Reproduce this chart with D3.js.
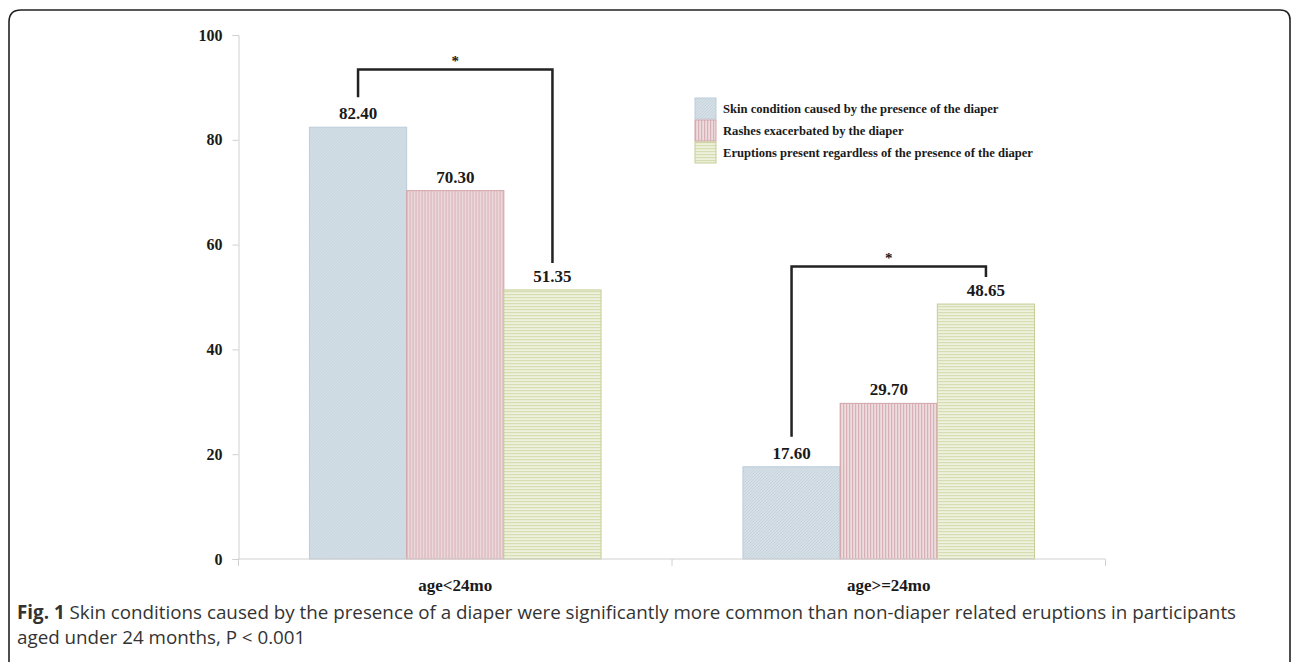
<!DOCTYPE html>
<html>
<head>
<meta charset="utf-8">
<script src="https://cdn.jsdelivr.net/npm/d3@7"></script>
<style>
  body { margin: 0; background: #fff; }
  svg { display: block; }
  .tick-label { font-family: "Liberation Serif", "Times New Roman", serif; font-weight: bold; fill: #1a1a1a; }
  .caption { font-family: "Open Sans", "Noto Sans", sans-serif; fill: #333; }
</style>
</head>
<body>
<div id="chart"></div>
<script>
const categories = ['age<24mo', 'age>=24mo']
const seriesNames = [
  'Skin condition caused by the presence of the diaper',
  'Rashes exacerbated by the diaper',
  'Eruptions present regardless of the presence of the diaper'
]
const valuesUnder24 = [82.40, 70.30, 51.35]
const valuesOver24 = [17.60, 29.70, 48.65]
const yTicks = [0, 20, 40, 60, 80, 100]
// significance brackets: first bar index, last bar index, bracket level (axis units)
const brackets = [
  {group: 'age<24mo', from: 0, to: 2, level: 93.4},
  {group: 'age>=24mo', from: 0, to: 2, level: 55.8}
]
const captionBold = 'Fig. 1'
const captionLine1 = ' Skin conditions caused by the presence of a diaper were significantly more common than non-diaper related eruptions in participants'
const captionLine2 = 'aged under 24 months, P < 0.001'

var fullWidth = 1292;
var fullHeight = 662;

var data = categories.map(function(c, i) {
  var vals = i == 0 ? valuesUnder24 : valuesOver24
  return {category: c, values: seriesNames.map(function(s, j) { return {series: s, idx: j, value: vals[j]} })}
})

var svg = d3.select('#chart').append('svg')
  .attr('width', fullWidth)
  .attr('height', fullHeight)

// patterns for the three series
var defs = svg.append('defs')
var pBlue = defs.append('pattern').attr('id', 'pat0').attr('patternUnits', 'userSpaceOnUse')
  .attr('width', 3).attr('height', 3)
pBlue.append('rect').attr('width', 3).attr('height', 3).attr('fill', '#d4dfe6')
pBlue.append('path').attr('d', 'M0,3 L3,0').attr('stroke', '#c3d1db').attr('stroke-width', 0.8)

var pRed = defs.append('pattern').attr('id', 'pat1').attr('patternUnits', 'userSpaceOnUse')
  .attr('width', 3).attr('height', 3)
pRed.append('rect').attr('width', 3).attr('height', 3).attr('fill', '#ecdcde')
pRed.append('rect').attr('x', 0).attr('width', 1.2).attr('height', 3).attr('fill', '#d9b0b6')

var pGreen = defs.append('pattern').attr('id', 'pat2').attr('patternUnits', 'userSpaceOnUse')
  .attr('width', 3).attr('height', 3)
pGreen.append('rect').attr('width', 3).attr('height', 3).attr('fill', '#eef1de')
pGreen.append('rect').attr('y', 0).attr('width', 3).attr('height', 1.2).attr('fill', '#d6ddb0')

var strokes = ['#bccdda', '#d3a3aa', '#c5cd96']

// outer frame (open at the bottom)
svg.append('path')
  .attr('d', 'M9,680 L9,22 Q9,10 21,10 L1280,10 Q1290,10 1290,20 L1290,680')
  .attr('fill', 'none')
  .attr('stroke', '#222')
  .attr('stroke-width', 1.6)

var x0 = d3.scaleBand().domain(categories).range([238.5, 1105.5])
var x1 = d3.scaleBand().domain(d3.range(seriesNames.length)).range([0, x0.bandwidth()]).paddingOuter(0.73)
var y = d3.scaleLinear().domain([0, 100]).range([559, 35])

// y axis
var yAxis = svg.append('g')
  .attr('transform', 'translate(238.5,0)')
  .call(d3.axisLeft(y).tickValues(yTicks).tickSize(6).tickPadding(10).tickFormat(d3.format('d')))
yAxis.selectAll('path, line').attr('stroke', '#d0d0d0')
yAxis.selectAll('text').attr('class', 'tick-label').style('font-size', '16px')

// bars
var groups = svg.selectAll('.group').data(data)
  .enter().append('g')
  .attr('class', 'group')
  .attr('transform', function(d) { return 'translate(' + x0(d.category) + ',0)' })

groups.selectAll('rect').data(function(d) { return d.values })
  .enter().append('rect')
  .attr('x', function(d) { return x1(d.idx) })
  .attr('y', function(d) { return y(d.value) })
  .attr('width', x1.bandwidth())
  .attr('height', function(d) { return y(0) - y(d.value) })
  .attr('fill', function(d) { return 'url(#pat' + d.idx + ')' })
  .attr('stroke', function(d) { return strokes[d.idx] })
  .attr('stroke-width', 1)

groups.selectAll('.val').data(function(d) { return d.values })
  .enter().append('text')
  .attr('class', 'tick-label val')
  .attr('x', function(d) { return x1(d.idx) + x1.bandwidth() / 2 })
  .attr('y', function(d) { return y(d.value) - 8 })
  .attr('text-anchor', 'middle')
  .style('font-size', '17px')
  .text(function(d) { return d3.format('.2f')(d.value) })

// x axis
var xAxis = svg.append('g')
  .attr('transform', 'translate(0,559)')
xAxis.append('line').attr('x1', x0.range()[0]).attr('x2', x0.range()[1]).attr('stroke', '#d0d0d0')
xAxis.selectAll('.xt').data(categories.concat([null]))
  .enter().append('line')
  .attr('x1', function(d, i) { return i < categories.length ? x0(d) : x0.range()[1] })
  .attr('x2', function(d, i) { return i < categories.length ? x0(d) : x0.range()[1] })
  .attr('y1', 0).attr('y2', 7)
  .attr('stroke', '#d0d0d0')
xAxis.selectAll('.cat').data(categories)
  .enter().append('text')
  .attr('class', 'tick-label cat')
  .attr('x', function(d) { return x0(d) + x0.bandwidth() / 2 })
  .attr('y', 32)
  .attr('text-anchor', 'middle')
  .style('font-size', '17px')
  .text(function(d) { return d })

// significance brackets
brackets.forEach(function(b) {
  var g = data.find(function(d) { return d.category == b.group })
  var xa = x0(b.group) + x1(b.from) + x1.bandwidth() / 2
  var xb = x0(b.group) + x1(b.to) + x1.bandwidth() / 2
  var top = y(b.level)
  var ya = y(g.values[b.from].value) - 30
  var yb = y(g.values[b.to].value) - 27
  svg.append('path')
    .attr('d', 'M' + xa + ',' + ya + ' L' + xa + ',' + top + ' L' + xb + ',' + top + ' L' + xb + ',' + yb)
    .attr('fill', 'none')
    .attr('stroke', '#222')
    .attr('stroke-width', 2.5)
  svg.append('text')
    .attr('class', 'tick-label')
    .attr('x', (xa + xb) / 2)
    .attr('y', top - 4)
    .attr('text-anchor', 'middle')
    .style('font-size', '15px')
    .text('*')
})

// legend
var legend = svg.append('g').attr('transform', 'translate(695,98)')
var items = legend.selectAll('.item').data(seriesNames)
  .enter().append('g')
  .attr('transform', function(d, i) { return 'translate(0,' + (i * 22) + ')' })
items.append('rect')
  .attr('width', 21).attr('height', 21)
  .attr('fill', function(d, i) { return 'url(#pat' + i + ')' })
  .attr('stroke', function(d, i) { return strokes[i] })
items.append('text')
  .attr('class', 'tick-label')
  .attr('x', 28).attr('y', 15)
  .style('font-size', '12.6px')
  .text(function(d) { return d })

// caption
var cap = svg.append('text').attr('class', 'caption').attr('x', 17).attr('y', 619).style('font-size', '18.8px')
cap.append('tspan').style('font-weight', 'bold').text(captionBold)
cap.append('tspan').text(captionLine1)
svg.append('text').attr('class', 'caption').attr('x', 17).attr('y', 644).style('font-size', '18.8px').text(captionLine2)
</script>
</body>
</html>
